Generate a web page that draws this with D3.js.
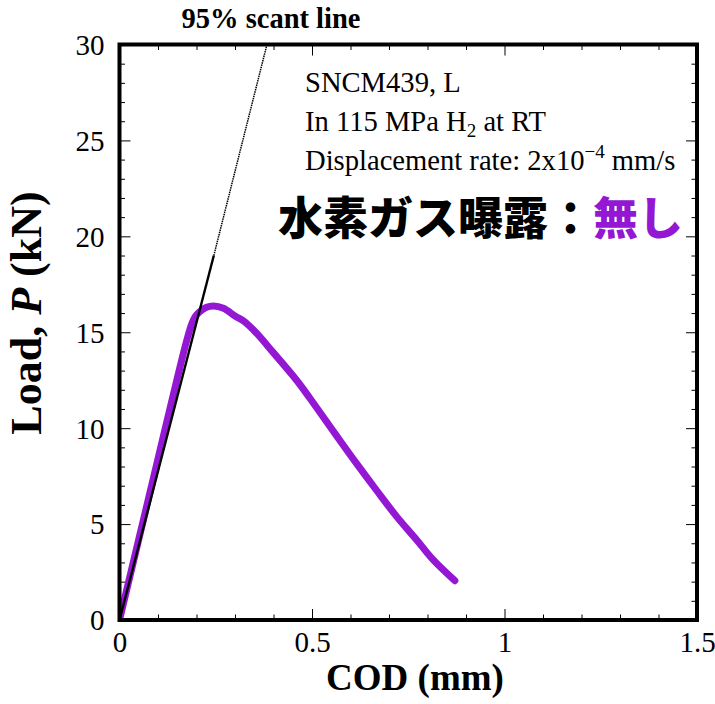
<!DOCTYPE html>
<html>
<head>
<meta charset="utf-8">
<script src="https://cdn.jsdelivr.net/npm/d3@7"></script>
<style>
  html, body { margin: 0; padding: 0; background: #fff; }
  svg { display: block; }
</style>
</head>
<body>
<div id="chart"></div>
<script>
// ---------------------------------------------------------------
// Data
// ---------------------------------------------------------------
const codValues = [0, 0.05, 0.10, 0.15, 0.175, 0.188, 0.197, 0.207, 0.226, 0.244, 0.270, 0.300, 0.325,
  0.356, 0.399, 0.460, 0.495, 0.564, 0.616, 0.668, 0.720, 0.772, 0.815, 0.871];
const loadValues = [0, 4.2, 8.4, 12.6, 14.6, 15.45, 15.82, 16.05, 16.30, 16.37, 16.25, 15.85, 15.55,
  14.95, 13.95, 12.5, 11.55, 9.6, 8.15, 6.75, 5.39, 4.17, 3.13, 2.05];

// 95% secant line, solid lower part and dotted upper part
const secantSolid = [[0, 0], [0.245, 19]];
const secantDotted = [[0.245, 19], [0.383, 30]];

const xMajor = [0, 0.5, 1, 1.5];
const xMinor = [0.1, 0.2, 0.3, 0.4, 0.6, 0.7, 0.8, 0.9, 1.1, 1.2, 1.3, 1.4];
const yMajor = [0, 5, 10, 15, 20, 25, 30];
const yMinor = d3.range(1, 30).filter(v => v % 5 !== 0);

const noteLines = ["SNCM439, L", "In 115 MPa H", "Displacement rate: 2x10"];

// ---------------------------------------------------------------
// SVG set up
// ---------------------------------------------------------------
const W = 715, H = 704;
const pLeft = 119.5, pRight = 697, pTop = 44.5, pBottom = 620;
const serif = "'Liberation Serif', 'Times New Roman', serif";
const purple = "#9417d4";

const svg = d3.select("#chart").append("svg")
  .attr("width", W)
  .attr("height", H);

const x = d3.scaleLinear().domain([0, 1.5]).range([pLeft, pRight]);
const y = d3.scaleLinear().domain([0, 30]).range([pBottom, pTop]);

// clip for the lines
svg.append("defs").append("clipPath").attr("id", "plot-clip")
  .append("rect")
  .attr("x", pLeft).attr("y", pTop)
  .attr("width", pRight - pLeft).attr("height", pBottom - pTop);

// ---------------------------------------------------------------
// Axes (ticks inward on all four sides)
// ---------------------------------------------------------------
function styleAxis(g) {
  g.select(".domain").remove();
  g.selectAll(".tick line").attr("stroke", "#000").attr("stroke-width", 1);
}

const fmt = d => d === 0 ? "0" : d3.format("~g")(d);

svg.append("g")
  .attr("transform", `translate(0,${pBottom})`)
  .call(d3.axisBottom(x).tickValues(xMajor).tickSize(-11).tickFormat(fmt))
  .call(styleAxis)
  .call(g => g.selectAll("text")
    .attr("y", 32).attr("dy", 0)
    .attr("font-family", serif).attr("font-size", 29).attr("fill", "#000"));

svg.append("g")
  .attr("transform", `translate(0,${pBottom})`)
  .call(d3.axisBottom(x).tickValues(xMinor).tickSize(-5.5).tickFormat(""))
  .call(styleAxis);

svg.append("g")
  .attr("transform", `translate(0,${pTop})`)
  .call(d3.axisTop(x).tickValues(xMajor).tickSize(-11).tickFormat(""))
  .call(styleAxis);

svg.append("g")
  .attr("transform", `translate(0,${pTop})`)
  .call(d3.axisTop(x).tickValues(xMinor).tickSize(-5.5).tickFormat(""))
  .call(styleAxis);

svg.append("g")
  .attr("transform", `translate(${pLeft},0)`)
  .call(d3.axisLeft(y).tickValues(yMajor).tickSize(-11).tickFormat(fmt))
  .call(styleAxis)
  .call(g => g.selectAll("text")
    .attr("x", -15).attr("dy", "0.34em")
    .attr("font-family", serif).attr("font-size", 29).attr("fill", "#000"));

svg.append("g")
  .attr("transform", `translate(${pLeft},0)`)
  .call(d3.axisLeft(y).tickValues(yMinor).tickSize(-5.5).tickFormat(""))
  .call(styleAxis);

svg.append("g")
  .attr("transform", `translate(${pRight},0)`)
  .call(d3.axisRight(y).tickValues(yMajor).tickSize(-11).tickFormat(""))
  .call(styleAxis);

svg.append("g")
  .attr("transform", `translate(${pRight},0)`)
  .call(d3.axisRight(y).tickValues(yMinor).tickSize(-5.5).tickFormat(""))
  .call(styleAxis);

// ---------------------------------------------------------------
// Curves
// ---------------------------------------------------------------
const curveData = codValues.map((c, i) => ({ cod: c, p: loadValues[i] }));

const line = d3.line()
  .x(d => x(d.cod))
  .y(d => y(d.p))
  .curve(d3.curveCatmullRom.alpha(0.5));

const plot = svg.append("g").attr("clip-path", "url(#plot-clip)");

plot.append("path")
  .datum(curveData)
  .attr("d", line)
  .attr("fill", "none")
  .attr("stroke", purple)
  .attr("stroke-width", 7)
  .attr("stroke-linecap", "round")
  .attr("stroke-linejoin", "round");

const segLine = d3.line().x(d => x(d[0])).y(d => y(d[1]));

plot.append("path")
  .attr("d", segLine(secantSolid))
  .attr("fill", "none")
  .attr("stroke", "#000")
  .attr("stroke-width", 2.4);

plot.append("path")
  .attr("d", segLine(secantDotted))
  .attr("fill", "none")
  .attr("stroke", "#000")
  .attr("stroke-width", 1.5)
  .attr("stroke-dasharray", "1.5,0.8");

// frame
svg.append("rect")
  .attr("x", pLeft).attr("y", pTop)
  .attr("width", pRight - pLeft).attr("height", pBottom - pTop)
  .attr("fill", "none")
  .attr("stroke", "#000")
  .attr("stroke-width", 4);

// ---------------------------------------------------------------
// Texts
// ---------------------------------------------------------------
svg.append("text")
  .attr("x", 271).attr("y", 28)
  .attr("text-anchor", "middle")
  .attr("font-family", serif).attr("font-size", 28.5).attr("font-weight", "bold")
  .text("95% scant line");

svg.append("text")
  .attr("x", 415).attr("y", 690)
  .attr("text-anchor", "middle")
  .attr("font-family", serif).attr("font-size", 37).attr("font-weight", "bold")
  .text("COD (mm)");

const yTitle = svg.append("text")
  .attr("transform", "translate(41,313) rotate(-90)")
  .attr("text-anchor", "middle")
  .attr("font-family", serif).attr("font-size", 44).attr("font-weight", "bold");
yTitle.append("tspan").text("Load, ");
yTitle.append("tspan").attr("font-style", "italic").text("P");
yTitle.append("tspan").text(" (kN)");

// annotation block
const noteX = 305;
svg.append("text").attr("x", noteX).attr("y", 92)
  .attr("font-family", serif).attr("font-size", 28.6).text(noteLines[0]);

const t2 = svg.append("text").attr("x", noteX).attr("y", 131)
  .attr("font-family", serif).attr("font-size", 28.6);
t2.append("tspan").text(noteLines[1]);
t2.append("tspan").attr("font-size", 19).attr("dy", 6).text("2");
t2.append("tspan").attr("dy", -6).text(" at RT");

const t3 = svg.append("text").attr("x", noteX).attr("y", 170)
  .attr("font-family", serif).attr("font-size", 28.6);
t3.append("tspan").text(noteLines[2]);
t3.append("tspan").attr("font-size", 19).attr("dy", -12).text("\u22124");
t3.append("tspan").attr("dy", 12).text(" mm/s");

// Japanese heading
const jp = svg.append("text")
  .attr("x", 278).attr("y", 235)
  .attr("font-family", "'Noto Sans CJK JP', sans-serif")
  .attr("font-size", 45).attr("font-weight", 900);
jp.append("tspan").attr("fill", "#000").text("水素ガス曝露：");
jp.append("tspan").attr("fill", purple).text("無し");
</script>
</body>
</html>
